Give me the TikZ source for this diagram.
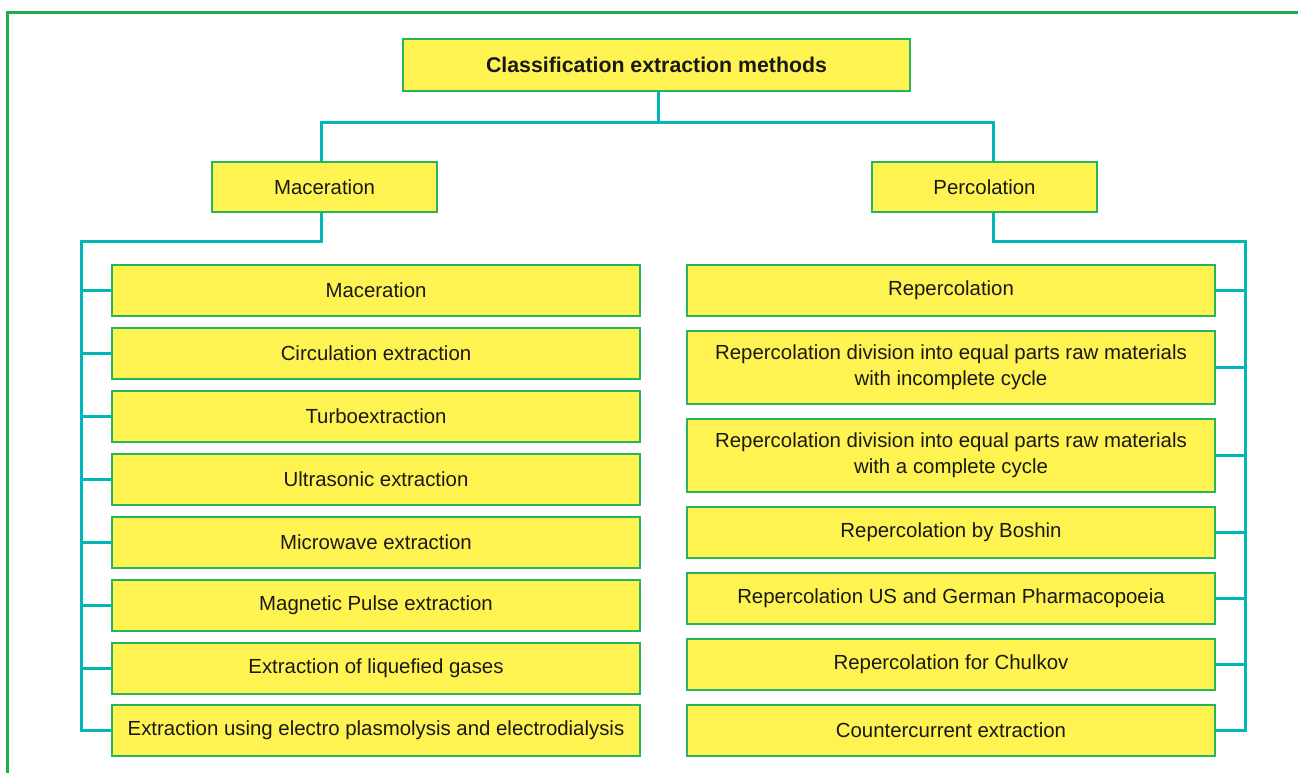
\documentclass[tikz,border=0pt]{standalone}
\usepackage{fontspec}
\setmainfont{Liberation Sans}
\definecolor{boxfill}{RGB}{255,243,82}
\definecolor{boxline}{RGB}{40,180,90}
\definecolor{teal2}{RGB}{0,183,183}
\definecolor{frame}{RGB}{24,178,76}
\tikzset{
  box/.style={draw=boxline, line width=1.5pt, fill=boxfill, rectangle, inner sep=0pt, align=center,
    font=\fontsize{20.4}{26}\selectfont, text=black!90},
  conn/.style={draw=teal2, line width=3pt, line join=miter},
}
\newcommand{\bx}[6]{% name, x1, y1, x2, y2, text
  \node[box, minimum width={(#4-#2)*1pt}, minimum height={(#5-#3)*1pt}] (#1) at ({(#2+#4)/2},{(#3+#5)/2}) {#6};}
\begin{document}
\begin{tikzpicture}[x=1pt, y=-1pt]
\useasboundingbox (0,0) rectangle (1298,773);
\fill[white] (0,0) rectangle (1298,773);
\draw[frame, line width=2.5pt] (1298,12.5) -- (7.5,12.5) -- (7.5,773);

\bx{title}{403}{39}{910}{91}{\fontsize{21.3}{26}\selectfont\textbf{Classification extraction methods}}
\bx{mac}{212}{162}{437}{212}{Maceration}
\bx{perc}{872}{162}{1097}{212}{Percolation}

\bx{l1}{112}{265}{640}{316}{Maceration}
\bx{l2}{112}{328}{640}{379}{Circulation extraction}
\bx{l3}{112}{391}{640}{442}{Turboextraction}
\bx{l4}{112}{454}{640}{505}{Ultrasonic extraction}
\bx{l5}{112}{517}{640}{568}{Microwave extraction}
\bx{l6}{112}{580}{640}{631}{Magnetic Pulse extraction}
\bx{l7}{112}{643}{640}{694}{Extraction of liquefied gases}
\bx{l8}{112}{705}{640}{756}{Extraction using electro plasmolysis and electrodialysis}

\bx{r1}{687}{265}{1215}{316}{Repercolation}
\bx{r2}{687}{331}{1215}{404}{Repercolation division into equal parts raw materials\\with incomplete cycle}
\bx{r3}{687}{419}{1215}{492}{Repercolation division into equal parts raw materials\\with a complete cycle}
\bx{r4}{687}{507}{1215}{558}{Repercolation by Boshin}
\bx{r5}{687}{573}{1215}{624}{Repercolation US and German Pharmacopoeia}
\bx{r6}{687}{639}{1215}{690}{Repercolation for Chulkov}
\bx{r7}{687}{705}{1215}{756}{Countercurrent extraction}

\coordinate (tj) at (658,123);
\coordinate (lbus) at (81,241);
\coordinate (rbus) at (1245,241);

\draw[conn] (title.south -| tj) -- (tj);
\draw[conn] ([xshift=-3.5pt]mac.north) |- (tj) -| ([xshift=8.5pt]perc.north);
\draw[conn] ([xshift=-3.5pt]mac.south) |- (lbus) |- (l8.west);
\draw[conn] ([xshift=8.5pt]perc.south) |- (rbus) |- (r7.east);
\foreach \i in {1,...,7} {\draw[conn] (lbus |- l\i.west) -- (l\i.west);}
\foreach \i in {1,...,6} {\draw[conn] (rbus |- r\i.east) -- (r\i.east);}
\end{tikzpicture}
\end{document}
